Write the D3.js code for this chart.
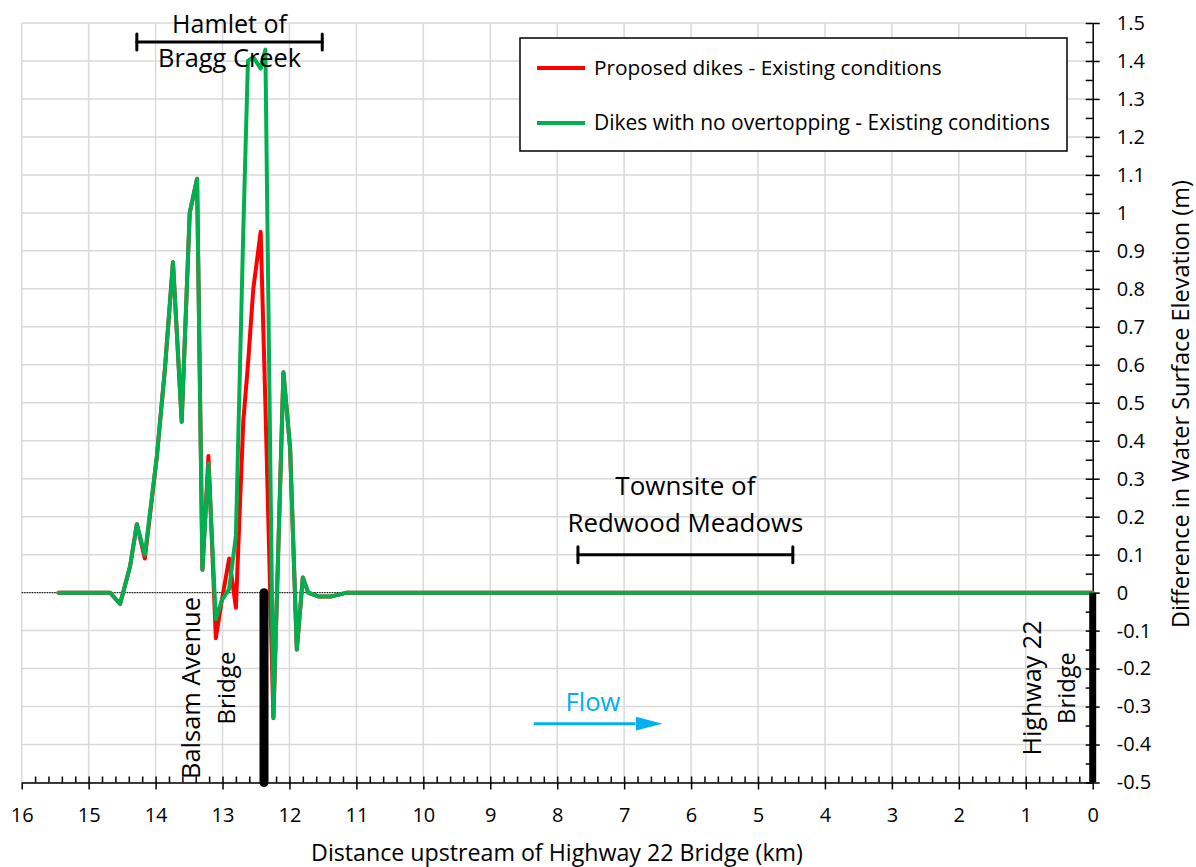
<!DOCTYPE html>
<html>
<head>
<meta charset="utf-8">
<style>
body { margin: 0; background: #fff; }
svg { display: block; font-family: "Open Sans", sans-serif; }
.grid line { stroke: #d9d9d9; stroke-width: 1.5; }
.axis path, .axis line { stroke: #000; stroke-width: 1.5; }
.axis text { font-family: "Open Sans", sans-serif; fill: #000; }
</style>
</head>
<body>
<svg id="chart"></svg>
<script src="https://cdnjs.cloudflare.com/ajax/libs/d3/7.8.5/d3.min.js"></script>
<script>
// distance upstream of Highway 22 bridge (km)
var km = [15.45, 14.68, 14.53, 14.38, 14.28, 14.16, 13.98, 13.86, 13.74, 13.61,
          13.49, 13.38, 13.30, 13.21, 13.10, 13.01, 12.90, 12.80, 12.69, 12.62,
          12.54, 12.43, 12.36, 12.24, 12.09, 11.99, 11.89, 11.80, 11.72, 11.57,
          11.37, 11.14, 10, 8, 6, 4, 2, 0];
// Proposed dikes - Existing conditions (m)
var proposed = [0, 0, -0.03, 0.07, 0.18, 0.09, 0.36, 0.59, 0.87, 0.45,
                1.0, 1.09, 0.06, 0.36, -0.12, -0.02, 0.09, -0.04, 0.45, 0.60,
                0.80, 0.95, 0.50, -0.33, 0.58, 0.38, -0.15, 0.04, 0, -0.01,
                -0.01, 0, 0, 0, 0, 0, 0, 0];
// Dikes with no overtopping - Existing conditions (m)
var noOvertop = [0, 0, -0.03, 0.07, 0.18, 0.10, 0.36, 0.59, 0.87, 0.45,
                 1.0, 1.09, 0.06, 0.34, -0.07, -0.02, 0.01, 0.15, 0.95, 1.40,
                 1.41, 1.38, 1.43, -0.33, 0.58, 0.38, -0.15, 0.04, 0, -0.01,
                 -0.01, 0, 0, 0, 0, 0, 0, 0];

var seriesNames = ["Proposed dikes - Existing conditions",
                   "Dikes with no overtopping - Existing conditions"];
var seriesColors = ["#ff0000", "#00b050"];

// bridges (km)
var bridgeKm = [12.38, 0];
var bridgeLabels = [["Balsam Avenue", "Bridge"], ["Highway 22", "Bridge"]];

// reaches (km) and bracket height (m)
var reachLabels = [["Hamlet of", "Bragg Creek"], ["Townsite of", "Redwood Meadows"]];
var reachFrom = [14.28, 7.69];
var reachTo = [11.51, 4.48];
var reachY = [1.45, 0.10];

var xTicks = d3.range(0, 17);
var yTicks = d3.range(-5, 16).map(function(d) { return d / 10; });

var W = 1196, H = 867;
var svg = d3.select("#chart").attr("width", W).attr("height", H);

var x = d3.scaleLinear().domain([16, 0]).range([21.7, 1092.7]);
var y = d3.scaleLinear().domain([-0.5, 1.5]).range([782.5, 23]);

// size a text so that it spans a given width
function fit(t, w) {
  var s = parseFloat(t.style("font-size"));
  var l = t.node().getComputedTextLength();
  t.style("font-size", (s * w / l).toFixed(2) + "px");
  return t;
}

// grid
var grid = svg.append("g").attr("class", "grid");
grid.selectAll(".v").data(xTicks.filter(function(d) { return d > 0; })).enter().append("line")
    .attr("x1", function(d) { return x(d); }).attr("x2", function(d) { return x(d); })
    .attr("y1", y(1.5)).attr("y2", y(-0.5));
grid.selectAll(".h").data(yTicks).enter().append("line")
    .attr("x1", x(16)).attr("x2", x(0))
    .attr("y1", function(d) { return y(d); }).attr("y2", function(d) { return y(d); });

// zero line (dotted)
svg.append("line")
    .attr("x1", x(16)).attr("x2", x(0)).attr("y1", y(0)).attr("y2", y(0))
    .attr("stroke", "#000").attr("stroke-width", 1).attr("stroke-dasharray", "1.5,1");

// x axis
var xAxisG = svg.append("g").attr("class", "axis").attr("transform", "translate(0," + y(-0.5) + ")");
xAxisG.call(d3.axisBottom(x).tickValues(xTicks).tickSize(7).tickSizeOuter(0).tickFormat(d3.format("d")));
xAxisG.selectAll("text").attr("y", 0).attr("dy", 0).attr("transform", "translate(0,39)")
    .style("font-size", "20px");
svg.append("g").attr("class", "axis").attr("transform", "translate(0," + y(-0.5) + ")")
    .call(d3.axisBottom(x).tickValues(d3.range(0, 80).map(function(d) { return d / 5; }))
          .tickSize(-6).tickSizeOuter(0).tickFormat(""))
    .select(".domain").remove();

// y axis (right)
var yAxisG = svg.append("g").attr("class", "axis").attr("transform", "translate(" + x(0) + ",0)");
yAxisG.call(d3.axisRight(y).tickValues(yTicks).tickSize(7).tickSizeOuter(0).tickPadding(17)
    .tickFormat(function(d) { return String(+d.toFixed(1)); }));
yAxisG.selectAll("text").style("font-size", "20px");
svg.append("g").attr("class", "axis").attr("transform", "translate(" + x(0) + ",0)")
    .call(d3.axisRight(y).tickValues(d3.range(-10, 31).map(function(d) { return d / 20; }))
          .tickSize(-7).tickSizeOuter(0).tickFormat(""))
    .select(".domain").remove();

// axis titles
fit(svg.append("text").attr("x", 557).attr("y", 861).attr("text-anchor", "middle")
    .style("font-size", "20px").text("Distance upstream of Highway 22 Bridge (km)"), 492);
fit(svg.append("text").attr("transform", "translate(1189,404) rotate(-90)")
    .attr("text-anchor", "middle").style("font-size", "20px")
    .text("Difference in Water Surface Elevation (m)"), 448);

// series lines
var line = d3.line().x(function(d) { return x(d[0]); }).y(function(d) { return y(d[1]); });
[proposed, noOvertop].forEach(function(vals, i) {
  svg.append("path")
      .attr("d", line(km.map(function(k, j) { return [k, vals[j]]; })))
      .attr("fill", "none").attr("stroke", seriesColors[i]).attr("stroke-width", 4)
      .attr("stroke-linejoin", "round").attr("stroke-linecap", "round");
});

// bridges
var bw = [9, 7];
bridgeKm.forEach(function(b, i) {
  svg.append("line").attr("x1", x(b)).attr("x2", x(b)).attr("y1", y(0)).attr("y2", y(-0.5))
      .attr("stroke", "#000").attr("stroke-width", bw[i]).attr("stroke-linecap", i === 0 ? "round" : "butt");
});
var bLabelX = [[200, 235], [1041, 1075]];
var bLabelW = [[182, 73], [135, 72]];
bridgeLabels.forEach(function(lbl, i) {
  lbl.forEach(function(t, j) {
    fit(svg.append("text").attr("transform", "translate(" + bLabelX[i][j] + ",688) rotate(-90)")
        .attr("text-anchor", "middle").style("font-size", "24px").text(t), bLabelW[i][j]);
  });
});

// reach brackets
var reachW = [[115, 143], [140, 236]];
var reachDy = [[-9, 25], [-60, -23]];
reachLabels.forEach(function(lbl, i) {
  var by = y(reachY[i]);
  var g = svg.append("g").attr("stroke", "#000").attr("stroke-width", 3).attr("stroke-linecap", "round");
  g.append("line").attr("x1", x(reachFrom[i])).attr("x2", x(reachTo[i])).attr("y1", by).attr("y2", by);
  [reachFrom[i], reachTo[i]].forEach(function(e) {
    g.append("line").attr("x1", x(e)).attr("x2", x(e)).attr("y1", by - 8).attr("y2", by + 8);
  });
  var cx = (x(reachFrom[i]) + x(reachTo[i])) / 2;
  lbl.forEach(function(t, j) {
    fit(svg.append("text").attr("x", cx).attr("y", by + reachDy[i][j])
        .attr("text-anchor", "middle").style("font-size", "24px").text(t), reachW[i][j]);
  });
});

// flow arrow
svg.append("defs").append("marker").attr("id", "arrow").attr("viewBox", "0 0 27 14")
    .attr("refX", 0).attr("refY", 7).attr("markerWidth", 27).attr("markerHeight", 14)
    .attr("markerUnits", "userSpaceOnUse").attr("orient", "auto")
    .append("path").attr("d", "M0,0 L27,7 L0,14 z").attr("fill", "#00b0f0");
svg.append("line").attr("x1", x(8.35)).attr("x2", x(6.83)).attr("y1", y(-0.345)).attr("y2", y(-0.345))
    .attr("stroke", "#00b0f0").attr("stroke-width", 3).attr("marker-end", "url(#arrow)");
fit(svg.append("text").attr("x", 593).attr("y", 711).attr("text-anchor", "middle")
    .attr("fill", "#00b0f0").style("font-size", "24px").text("Flow"), 55);

// legend
var lg = svg.append("g");
lg.append("rect").attr("x", 520).attr("y", 38).attr("width", 547).attr("height", 113)
    .attr("fill", "#fff").attr("stroke", "#000").attr("stroke-width", 1.5);
var legW = [348, 456];
seriesNames.forEach(function(n, i) {
  var ly = 68 + i * 55;
  lg.append("line").attr("x1", 537).attr("x2", 585).attr("y1", ly).attr("y2", ly)
      .attr("stroke", seriesColors[i]).attr("stroke-width", 4);
  fit(lg.append("text").attr("x", 594).attr("y", ly + 7).style("font-size", "20px").text(n), legW[i]);
});
</script>
</body>
</html>
